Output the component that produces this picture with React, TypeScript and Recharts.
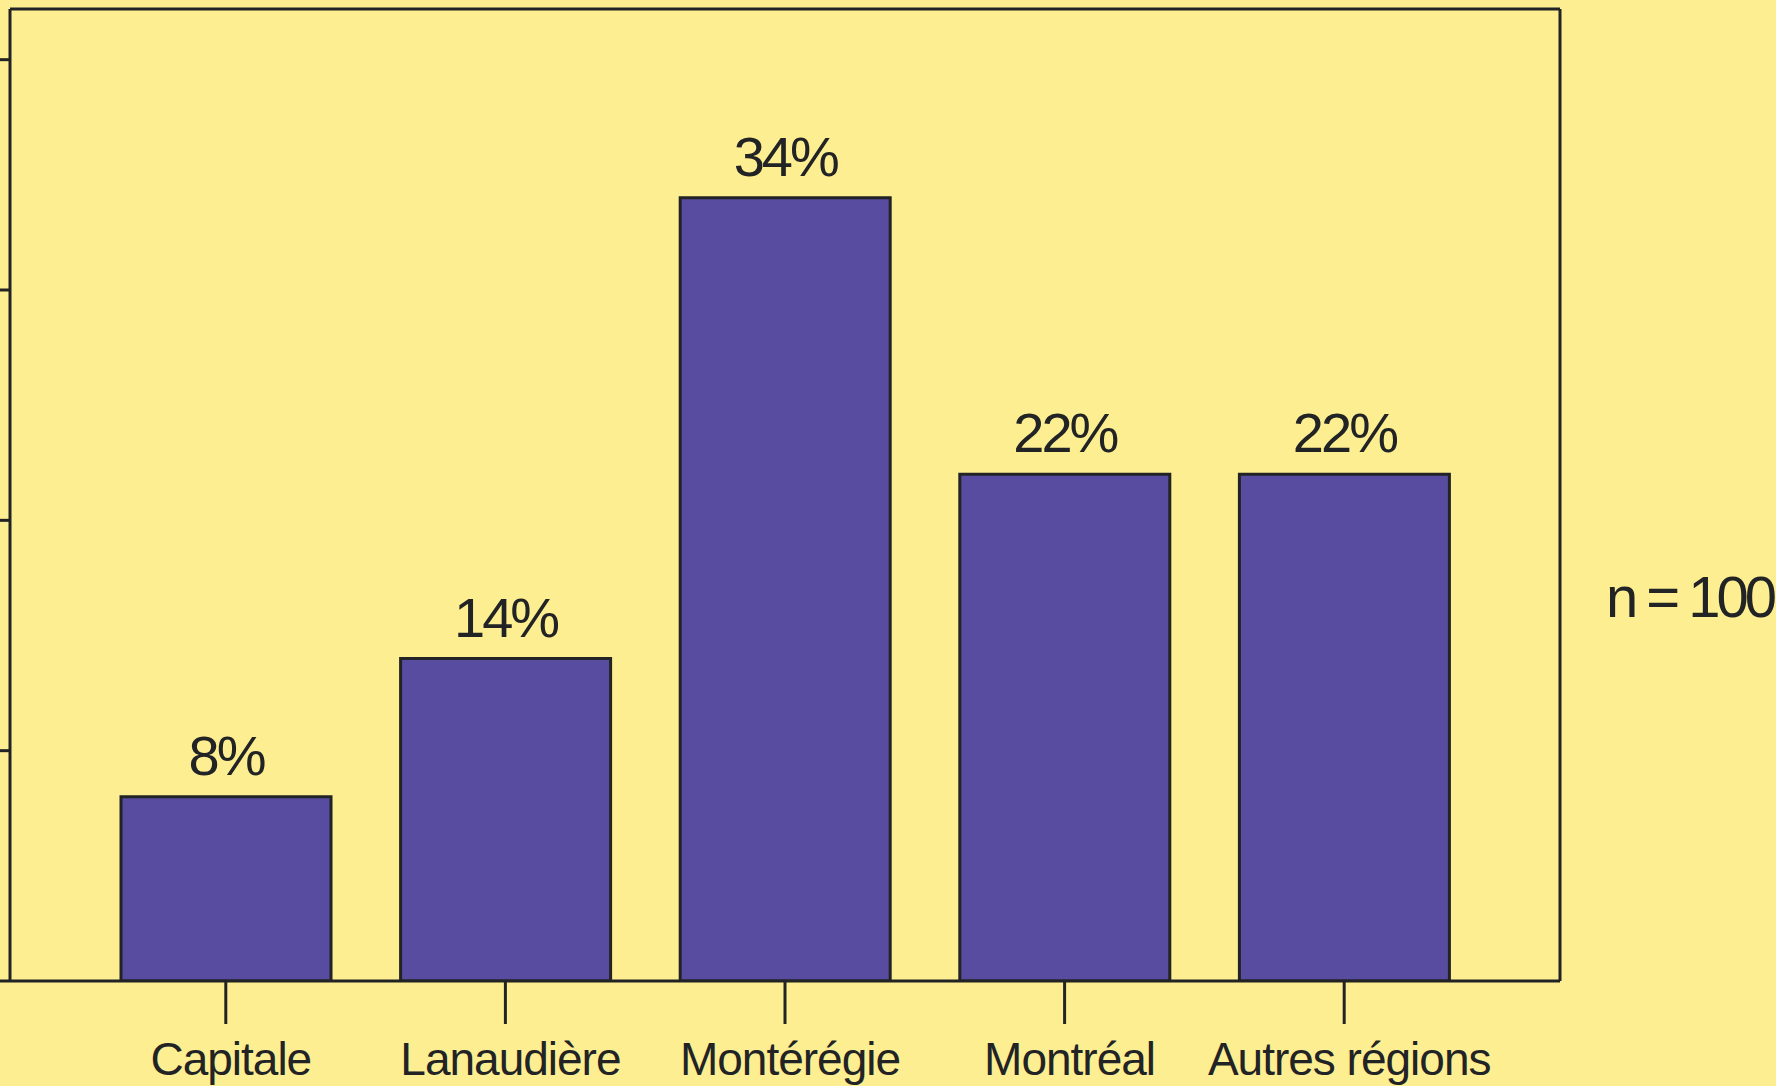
import React from 'react';
import { BarChart, Bar, XAxis, YAxis, LabelList } from 'recharts';

// Répartition régionale (n = 100)
const regions = ['Capitale', 'Lanaudière', 'Montérégie', 'Montréal', 'Autres régions'];
const pourcentages = [8, 14, 34, 22, 22];
const yTicks = [0, 10, 20, 30, 40];
const sampleLabel = 'n = 100';

const BG = '#fcee91';
const BAR = '#574ca0';
const INK = '#222325';
const FONT = '"Liberation Sans", Arial, Helvetica, sans-serif';

const data = regions.map((name, i) => ({ name, value: pourcentages[i] }));

export default function App() {
  return (
    <div
      style={{
        position: 'absolute',
        left: 0,
        top: 0,
        width: 1776,
        height: 1086,
        background: BG,
        overflow: 'hidden',
        fontFamily: FONT,
      }}
    >
      <BarChart
        width={1776}
        height={1086}
        data={data}
        margin={{ top: 8, right: 215, bottom: 0, left: 9 }}
      >
        <XAxis
          dataKey="name"
          height={105}
          padding={{ left: 76, right: 76 }}
          axisLine={{ stroke: INK, strokeWidth: 3 }}
          tickLine={{ stroke: INK, strokeWidth: 3 }}
          tickSize={43}
          tickMargin={18}
          tick={{ fill: INK, fontSize: 46, fontFamily: FONT, letterSpacing: -1, dx: 5 }}
          interval={0}
        />
        <XAxis
          xAxisId="top"
          orientation="top"
          dataKey="name"
          height={1}
          padding={{ left: 76, right: 76 }}
          axisLine={{ stroke: INK, strokeWidth: 3 }}
          tickLine={false}
          tick={false}
        />
        <YAxis
          width={1}
          domain={[0, 42.2]}
          ticks={yTicks}
          allowDataOverflow
          axisLine={{ stroke: INK, strokeWidth: 3 }}
          tickLine={{ stroke: INK, strokeWidth: 3 }}
          tickSize={10}
          tickFormatter={() => ''}
        />
        <YAxis
          yAxisId="right"
          orientation="right"
          width={1}
          domain={[0, 42.2]}
          axisLine={{ stroke: INK, strokeWidth: 3 }}
          tickLine={false}
          tick={false}
        />
        <Bar
          dataKey="value"
          fill={BAR}
          stroke={INK}
          strokeWidth={3}
          barSize={210}
          isAnimationActive={false}
        >
          <LabelList
            dataKey="value"
            position="top"
            offset={22}
            formatter={(v: any) => `${v}%`}
            style={{ fill: INK, fontSize: 56, fontFamily: FONT, letterSpacing: -3 }}
          />
        </Bar>
      </BarChart>
      <div
        style={{
          position: 'absolute',
          left: 1606,
          top: 562,
          fontSize: 58,
          lineHeight: '70px',
          color: INK,
          letterSpacing: -4,
          whiteSpace: 'nowrap',
        }}
      >
        {sampleLabel}
      </div>
    </div>
  );
}
